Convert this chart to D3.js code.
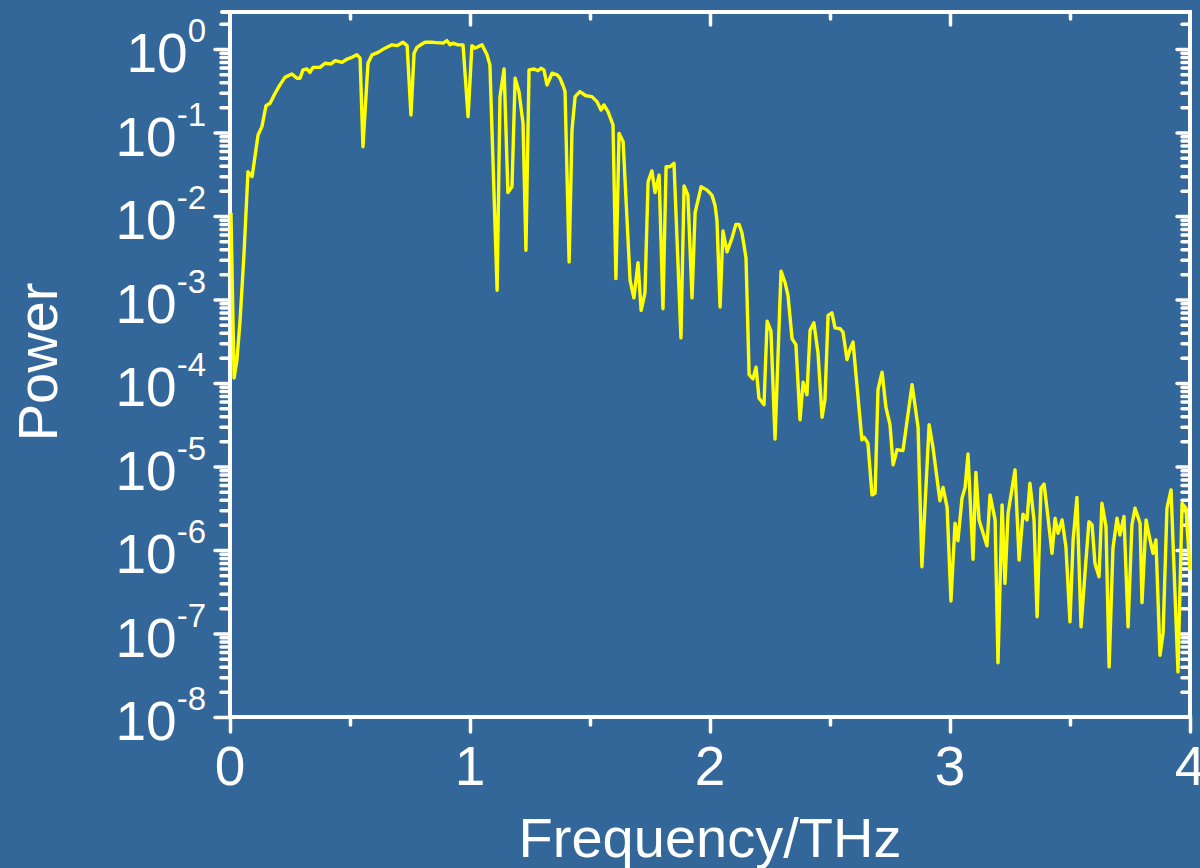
<!DOCTYPE html>
<html>
<head>
<meta charset="utf-8">
<script src="https://cdn.jsdelivr.net/npm/d3@7"></script>
<style>
html,body{margin:0;padding:0;background:#336699;}
svg{display:block;}
text{font-family:"Liberation Sans", Arial, sans-serif; fill:#fff;}
</style>
</head>
<body>
<svg id="chart" width="1200" height="868"></svg>
<script>
// Frequency (THz)
const freq = [
0.004,0.017,0.029,0.042,0.058,0.075,0.092,0.117,0.133,0.150,
0.167,0.188,0.208,0.229,0.258,0.279,0.292,0.304,0.321,0.333,
0.346,0.375,0.396,0.421,0.438,0.467,0.488,0.508,0.529,0.542,
0.554,0.575,0.592,0.617,0.646,0.675,0.696,0.721,0.738,0.754,
0.767,0.779,0.800,0.813,0.846,0.888,0.904,0.917,0.929,0.950,
0.971,0.992,1.008,1.021,1.050,1.071,1.083,1.113,1.125,1.142,
1.158,1.175,1.188,1.204,1.221,1.233,1.246,1.267,1.283,1.296,
1.308,1.321,1.342,1.363,1.375,1.388,1.396,1.413,1.425,1.438,
1.458,1.483,1.508,1.529,1.546,1.558,1.575,1.596,1.608,1.621,
1.638,1.667,1.683,1.700,1.713,1.729,1.742,1.758,1.771,1.788,
1.804,1.817,1.833,1.850,1.879,1.892,1.908,1.925,1.938,1.963,
1.988,2.008,2.021,2.029,2.042,2.054,2.071,2.092,2.108,2.121,
2.133,2.150,2.163,2.179,2.192,2.204,2.225,2.238,2.254,2.271,
2.296,2.313,2.325,2.342,2.358,2.375,2.388,2.404,2.417,2.433,
2.450,2.467,2.479,2.492,2.508,2.521,2.542,2.554,2.571,2.583,
2.596,2.633,2.642,2.658,2.675,2.688,2.700,2.717,2.733,2.750,
2.763,2.779,2.804,2.842,2.867,2.883,2.913,2.929,2.958,2.971,
2.988,3.004,3.021,3.033,3.050,3.063,3.075,3.096,3.108,3.121,
3.138,3.154,3.167,3.188,3.200,3.217,3.229,3.242,3.271,3.288,
3.304,3.321,3.333,3.350,3.363,3.379,3.392,3.408,3.425,3.438,
3.450,3.467,3.483,3.500,3.513,3.529,3.546,3.563,3.579,3.592,
3.604,3.621,3.633,3.650,3.663,3.679,3.696,3.708,3.725,3.742,
3.758,3.771,3.792,3.800,3.817,3.829,3.846,3.858,3.875,3.888,
3.904,3.921,3.950,3.967,3.983,4.000
];
const powerLog10 = [
-1.96,-3.94,-3.72,-3.25,-2.47,-1.47,-1.53,-1.03,-0.93,-0.68,
-0.65,-0.53,-0.43,-0.34,-0.30,-0.35,-0.35,-0.25,-0.24,-0.28,
-0.22,-0.22,-0.17,-0.18,-0.14,-0.16,-0.12,-0.10,-0.07,-0.11,
-1.17,-0.17,-0.07,-0.04,0.01,0.05,0.04,0.08,0.04,-0.79,
-0.05,0.02,0.06,0.08,0.08,0.07,0.10,0.05,0.07,0.05,
0.05,-0.81,0.04,0.01,0.05,-0.07,-0.19,-2.89,-0.57,-0.24,
-1.72,-1.65,-0.35,-0.51,-0.89,-2.41,-0.25,-0.24,-0.26,-0.23,
-0.25,-0.43,-0.29,-0.31,-0.35,-0.44,-0.51,-2.55,-0.97,-0.57,
-0.51,-0.56,-0.57,-0.63,-0.73,-0.67,-0.75,-0.91,-2.75,-1.01,
-1.11,-2.77,-2.98,-2.56,-3.13,-2.92,-1.59,-1.46,-1.72,-1.51,
-3.11,-1.41,-1.41,-1.37,-3.46,-1.64,-1.75,-2.98,-1.96,-1.65,
-1.69,-1.75,-1.87,-2.05,-3.09,-2.18,-2.43,-2.26,-2.10,-2.10,
-2.20,-2.50,-3.90,-3.95,-3.81,-4.18,-4.26,-3.26,-3.38,-4.67,
-2.66,-2.80,-2.95,-3.47,-3.54,-4.44,-3.99,-4.14,-3.37,-3.28,
-3.64,-4.41,-4.20,-3.19,-3.16,-3.34,-3.35,-3.39,-3.72,-3.60,
-3.51,-4.68,-4.65,-4.72,-5.34,-5.32,-4.08,-3.87,-4.29,-4.50,
-4.98,-4.80,-4.81,-4.02,-4.53,-6.20,-4.50,-4.77,-5.41,-5.25,
-5.49,-6.61,-5.68,-5.89,-5.38,-5.25,-4.85,-6.11,-5.07,-5.64,
-5.80,-5.95,-5.34,-5.64,-7.35,-5.46,-6.40,-5.56,-5.04,-6.12,
-5.57,-5.64,-5.20,-5.64,-6.80,-5.26,-5.21,-5.60,-6.04,-5.62,
-5.80,-5.64,-5.96,-6.86,-5.88,-5.37,-6.92,-6.26,-5.66,-5.70,
-6.16,-6.32,-5.44,-5.72,-7.40,-5.98,-5.62,-5.82,-5.60,-6.92,
-5.70,-5.50,-5.68,-6.63,-5.64,-5.82,-6.04,-5.88,-7.26,-6.99,
-5.50,-5.28,-7.46,-5.44,-5.50,-6.24
];
const xMajorTicks = [0, 1, 2, 3, 4];
const xMinorTicks = [0.5, 1.5, 2.5, 3.5];
const yExponents = [0, -1, -2, -3, -4, -5, -6, -7, -8];
const xLabel = "Frequency/THz";
const yLabel = "Power";

(function () {
const svg = d3.select("#chart");
const pL = 230, pR = 1190, pT = 12, pB = 717;
const x = d3.scaleLinear().domain([0, 4]).range([pL, pR]);
const y = d3.scaleLog().domain([1e-8, 1]).range([pB, 49]);

const yMajor = yExponents.map(e => Math.pow(10, e));
const yMinor = [];
for (let e = -8; e <= 0; e++) {
  for (let m = 2; m <= 9; m++) {
    const v = m * Math.pow(10, e);
    if (y(v) >= pT + 4) yMinor.push(v);
  }
}

const white = "#ffffff";
function styleAxis(g) {
  g.select(".domain").remove();
  g.selectAll(".tick line").attr("stroke", white).attr("stroke-width", 3.5).attr("stroke-linecap", "round");
  g.selectAll(".tick text").remove();
}

// Bottom axis (outward)
svg.append("g").attr("transform", `translate(0,${pB})`)
  .call(d3.axisBottom(x).tickValues(xMajorTicks).tickSize(15)).call(styleAxis);
svg.append("g").attr("transform", `translate(0,${pB})`)
  .call(d3.axisBottom(x).tickValues(xMinorTicks).tickSize(8)).call(styleAxis);
// Top axis (inward)
svg.append("g").attr("transform", `translate(0,${pT})`)
  .call(d3.axisTop(x).tickValues(xMajorTicks.slice(1, -1)).tickSize(-13)).call(styleAxis);
svg.append("g").attr("transform", `translate(0,${pT})`)
  .call(d3.axisTop(x).tickValues(xMinorTicks).tickSize(-7)).call(styleAxis);
// Left axis (outward)
svg.append("g").attr("transform", `translate(${pL},0)`)
  .call(d3.axisLeft(y).tickValues(yMajor).tickSize(15)).call(styleAxis);
svg.append("g").attr("transform", `translate(${pL},0)`)
  .call(d3.axisLeft(y).tickValues(yMinor).tickSize(9)).call(styleAxis);
// Right axis (inward)
svg.append("g").attr("transform", `translate(${pR},0)`)
  .call(d3.axisRight(y).tickValues(yMajor.slice(0, -1)).tickSize(-13)).call(styleAxis);
svg.append("g").attr("transform", `translate(${pR},0)`)
  .call(d3.axisRight(y).tickValues(yMinor).tickSize(-8)).call(styleAxis);

// Frame
svg.append("rect").attr("x", pL).attr("y", pT)
  .attr("width", pR - pL).attr("height", pB - pT)
  .attr("fill", "none").attr("stroke", white).attr("stroke-width", 4);
svg.append("line").attr("x1", pL - 8).attr("x2", pL).attr("y1", pT).attr("y2", pT)
  .attr("stroke", white).attr("stroke-width", 4).attr("stroke-linecap", "round");

// Curve
const data = freq.map((f, i) => ({ f, p: Math.pow(10, powerLog10[i]) }));
const line = d3.line().x(d => x(d.f)).y(d => y(d.p));
svg.append("path").datum(data).attr("d", line)
  .attr("fill", "none").attr("stroke", "#ffff00").attr("stroke-width", 3.4)
  .attr("stroke-linejoin", "round");

// X tick labels
svg.selectAll(".xlab").data(xMajorTicks).enter().append("text")
  .attr("x", d => x(d)).attr("y", 785).attr("text-anchor", "middle")
  .attr("font-size", 55).text(d => d);

// Y tick labels
const yl = svg.selectAll(".ylab").data(yExponents).enter().append("text")
  .attr("x", 206).attr("y", d => y(Math.pow(10, d)) + 23)
  .attr("text-anchor", "end").attr("font-size", 55);
yl.append("tspan").text("10");
yl.append("tspan").attr("dy", -30).attr("font-size", 33).text(d => String(d));

// Axis titles
svg.append("text").attr("x", (pL + pR) / 2).attr("y", 857)
  .attr("text-anchor", "middle").attr("font-size", 56).text(xLabel);
svg.append("text").attr("transform", "translate(57,362) rotate(-90)")
  .attr("text-anchor", "middle").attr("font-size", 56).text(yLabel);
})();
</script>
</body>
</html>
